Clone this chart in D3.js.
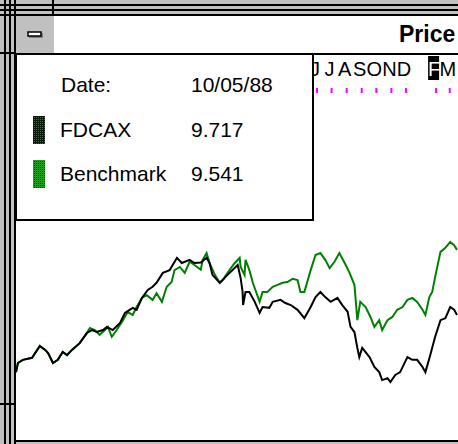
<!DOCTYPE html>
<html>
<head>
<meta charset="utf-8">
<script src="https://cdn.jsdelivr.net/npm/d3@7"></script>
<style>
  body { margin: 0; background: #c0c0c0; }
  svg { display: block; font-family: "Liberation Sans", Arial, sans-serif; }
</style>
</head>
<body>
<div id="chart"></div>
<script>
// Tamaño de la ventana
const width = 458;
const height = 444;

// Datos: fechas como días desde startDate, valores de precio
const startDate = new Date(1987, 8, 21);
const endDate = new Date(1990, 2, 18);
const seriesNames = ["FDCAX", "Benchmark"];
const cursorLabel = "10/05/88";
const cursorValues = [9.717, 9.541];
const monthInitials = ["J", "F", "M", "A", "M", "J", "J", "A", "S", "O", "N", "D"];
const hiddenMonth = 0;                 // enero no se rotula
const highlightMonth = new Date(1990, 1, 1);
const titleText = "Price";

// tramo inicial común a las dos series
const sharedStart = [[0,6.96],[4,7.19],[14,7.27],[33,7.32],[49,7.62],[60,7.52],[66,7.44],[76,7.19],
  [86,7.27],[96,7.47],[105,7.39],[115,7.52],[131,7.69],[146,7.95]];

const fdcaxRest = [[156,8.02],[166,7.97],[179,8.02],[187,8.10],[199,8.02],[214,8.20],[224,8.45],[240,8.58],
  [248,8.53],[259,8.83],[271,9.03],[281,9.11],[289,9.21],[302,9.46],[316,9.53],[331,9.84],[341,9.71],
  [357,9.79],[367,9.71],[380,9.72],[392,9.84],[398,9.71],[404,9.41],[419,9.21],[425,9.28],[435,9.41],
  [456,9.66],[462,9.33],[466,8.98],[467,8.65],[472,8.98],[480,8.98],[491,8.73],[501,8.45],[507,8.60],
  [521,8.58],[528,8.73],[544,8.78],[554,8.70],[565,8.65],[579,8.53],[593,8.32],[606,8.60],[616,8.85],
  [626,8.98],[636,8.85],[647,8.73],[661,8.83],[671,8.65],[682,8.48],[688,8.10],[696,7.97],[702,7.57],
  [706,7.34],[712,7.57],[727,7.34],[737,7.09],[747,6.96],[753,6.76],[764,6.81],[770,6.71],[780,6.89],
  [790,6.96],[805,7.34],[815,7.27],[825,7.27],[836,7.09],[842,6.96],[852,7.39],[862,7.85],[873,8.27],
  [883,8.32],[893,8.60],[901,8.53],[907,8.40]];

const benchRest = [[152,8.07],[162,8.02],[172,7.90],[183,8.02],[189,8.10],[197,7.85],[207,8.02],[220,8.27],
  [230,8.48],[240,8.40],[248,8.60],[259,8.83],[269,8.90],[281,8.78],[289,8.95],[300,8.73],[310,9.11],
  [320,9.23],[326,9.53],[337,9.61],[347,9.46],[357,9.74],[367,9.66],[380,9.54],[384,9.79],[392,9.96],
  [398,9.71],[409,9.41],[419,9.21],[425,9.28],[439,9.53],[450,9.71],[460,9.84],[462,9.61],[470,9.41],
  [472,9.79],[480,9.53],[487,9.21],[501,8.73],[507,8.98],[517,8.98],[528,9.11],[538,9.16],[548,9.21],
  [558,9.23],[569,9.31],[579,9.28],[585,8.98],[593,8.98],[606,9.53],[616,9.91],[626,9.96],[636,9.79],
  [645,9.58],[655,9.74],[665,9.96],[676,9.71],[686,9.46],[696,9.16],[702,8.27],[708,8.73],[719,8.60],
  [729,8.35],[737,8.10],[747,8.27],[753,8.02],[764,8.27],[774,8.35],[784,8.53],[795,8.60],[805,8.78],
  [815,8.83],[825,8.73],[836,8.53],[842,8.40],[850,8.85],[856,8.98],[862,9.36],[873,9.99],[883,10.09],
  [893,10.24],[901,10.16],[907,10.04]];

const fdcax = sharedStart.concat(fdcaxRest);
const bench = sharedStart.concat(benchRest);

// Zona del gráfico dentro de la ventana
const plot = { left: 16, right: 458, top: 55, bottom: 441 };
const legendRight = 313;

const svg = d3.select("#chart")
  .append("svg")
  .attr("width", width)
  .attr("height", height);

// fondo gris del marco
svg.append("rect").attr("width", width).attr("height", height).attr("fill", "#c0c0c0");

// líneas del borde de la ventana (arriba e izquierda)
[4, 9, 14].forEach(p => {
  svg.append("rect").attr("x", 0).attr("y", p).attr("width", width).attr("height", 2).attr("fill", "#000");
  svg.append("rect").attr("x", p).attr("y", 0).attr("width", 2).attr("height", height).attr("fill", "#000");
});
// marcas de esquina del borde
svg.append("rect").attr("x", 52).attr("y", 0).attr("width", 2).attr("height", 16).attr("fill", "#000");
svg.append("rect").attr("x", 0).attr("y", 52).attr("width", 16).attr("height", 2).attr("fill", "#000");
svg.append("rect").attr("x", 0).attr("y", 403).attr("width", 16).attr("height", 2).attr("fill", "#000");

// barra de título
svg.append("rect").attr("x", 54).attr("y", 16).attr("width", width - 54).attr("height", 37).attr("fill", "#fff");
svg.append("text")
  .attr("x", 399).attr("y", 42)
  .attr("font-size", 23).attr("font-weight", "bold")
  .text(titleText);

// botón del menú de sistema
svg.append("rect").attr("x", 16).attr("y", 16).attr("width", 36).attr("height", 37).attr("fill", "#c0c0c0");
svg.append("rect").attr("x", 29).attr("y", 33).attr("width", 14).attr("height", 5).attr("fill", "#808080");
svg.append("rect").attr("x", 28).attr("y", 32).attr("width", 13).attr("height", 4)
  .attr("fill", "#fff").attr("stroke", "#000").attr("stroke-width", 1.5);

// área blanca del gráfico
svg.append("rect")
  .attr("x", plot.left).attr("y", plot.top)
  .attr("width", plot.right - plot.left).attr("height", plot.bottom - plot.top)
  .attr("fill", "#fff");
svg.append("rect").attr("x", 16).attr("y", 53).attr("width", width - 16).attr("height", 2).attr("fill", "#000");
svg.append("rect").attr("x", 16).attr("y", 440).attr("width", width - 16).attr("height", 2).attr("fill", "#000");

// Escalas
const xScale = d3.scaleTime()
  .domain([startDate, endDate])
  .range([plot.left, plot.right]);

const yScale = d3.scaleLinear()
  .domain([5.25, 15])
  .range([440, 53]);

const toDate = d => d3.timeDay.offset(startDate, d[0]);

// tira de meses: sólo la parte que queda a la derecha de la leyenda
const months = d3.timeMonth.range(d3.timeMonth.ceil(startDate), endDate)
  .filter(m => m.getMonth() !== hiddenMonth && xScale(m) > legendRight);

const strip = svg.append("g").attr("id", "month-strip");
strip.selectAll("rect.tick")
  .data(months)
  .enter().append("rect")
  .attr("class", "tick")
  .attr("x", m => xScale(m) - 1)
  .attr("y", 88)
  .attr("width", 2)
  .attr("height", 5)
  .attr("fill", "#ff00ff");

strip.append("rect")
  .attr("x", xScale(highlightMonth) - 8)
  .attr("y", 56)
  .attr("width", 11)
  .attr("height", 24)
  .attr("fill", "#000");

strip.selectAll("text")
  .data(months)
  .enter().append("text")
  .attr("x", m => xScale(m) - 2)
  .attr("y", 76)
  .attr("text-anchor", "middle")
  .attr("font-size", 20)
  .attr("fill", m => +m === +highlightMonth ? "#fff" : "#000")
  .text(m => monthInitials[m.getMonth()]);

// Líneas de precio
const line = d3.line()
  .x(d => xScale(toDate(d)))
  .y(d => yScale(d[1]));

svg.append("clipPath").attr("id", "clip")
  .append("rect")
  .attr("x", plot.left).attr("y", plot.top)
  .attr("width", plot.right - plot.left).attr("height", plot.bottom - plot.top);

const lines = svg.append("g").attr("clip-path", "url(#clip)");
lines.append("path")
  .datum(bench)
  .attr("fill", "none")
  .attr("stroke", "#008000")
  .attr("stroke-width", 2)
  .attr("d", line);
lines.append("path")
  .datum(fdcax)
  .attr("fill", "none")
  .attr("stroke", "#000")
  .attr("stroke-width", 2)
  .attr("d", line);

// patrones punteados para las muestras de la leyenda
const defs = svg.append("defs");
const darkPat = defs.append("pattern").attr("id", "dark").attr("width", 2).attr("height", 2)
  .attr("patternUnits", "userSpaceOnUse");
darkPat.append("rect").attr("width", 2).attr("height", 2).attr("fill", "#0a1a0a");
darkPat.append("rect").attr("width", 1).attr("height", 1).attr("fill", "#2e7d1e");
const greenPat = defs.append("pattern").attr("id", "green").attr("width", 2).attr("height", 2)
  .attr("patternUnits", "userSpaceOnUse");
greenPat.append("rect").attr("width", 2).attr("height", 2).attr("fill", "#18a018");
greenPat.append("rect").attr("width", 1).attr("height", 1).attr("fill", "#103010");

// Leyenda con el cursor
const legend = svg.append("g").attr("id", "legend");
legend.append("rect")
  .attr("x", 16).attr("y", 54)
  .attr("width", legendRight - 16).attr("height", 166)
  .attr("fill", "#fff").attr("stroke", "#000").attr("stroke-width", 2);

legend.append("text").attr("x", 61).attr("y", 92).attr("font-size", 21).text("Date:");
legend.append("text").attr("x", 191).attr("y", 92).attr("font-size", 21).text(cursorLabel);

const rows = legend.selectAll("g.row")
  .data(seriesNames)
  .enter().append("g")
  .attr("class", "row")
  .attr("transform", (d, i) => `translate(0, ${137 + i * 44})`);
rows.append("rect")
  .attr("x", 33).attr("y", -21)
  .attr("width", 12).attr("height", 28)
  .attr("fill", (d, i) => i === 0 ? "url(#dark)" : "url(#green)");
rows.append("text").attr("x", 60).attr("font-size", 21).text(d => d);
rows.append("text").attr("x", 191).attr("font-size", 21).text((d, i) => cursorValues[i].toFixed(3));
</script>
</body>
</html>
